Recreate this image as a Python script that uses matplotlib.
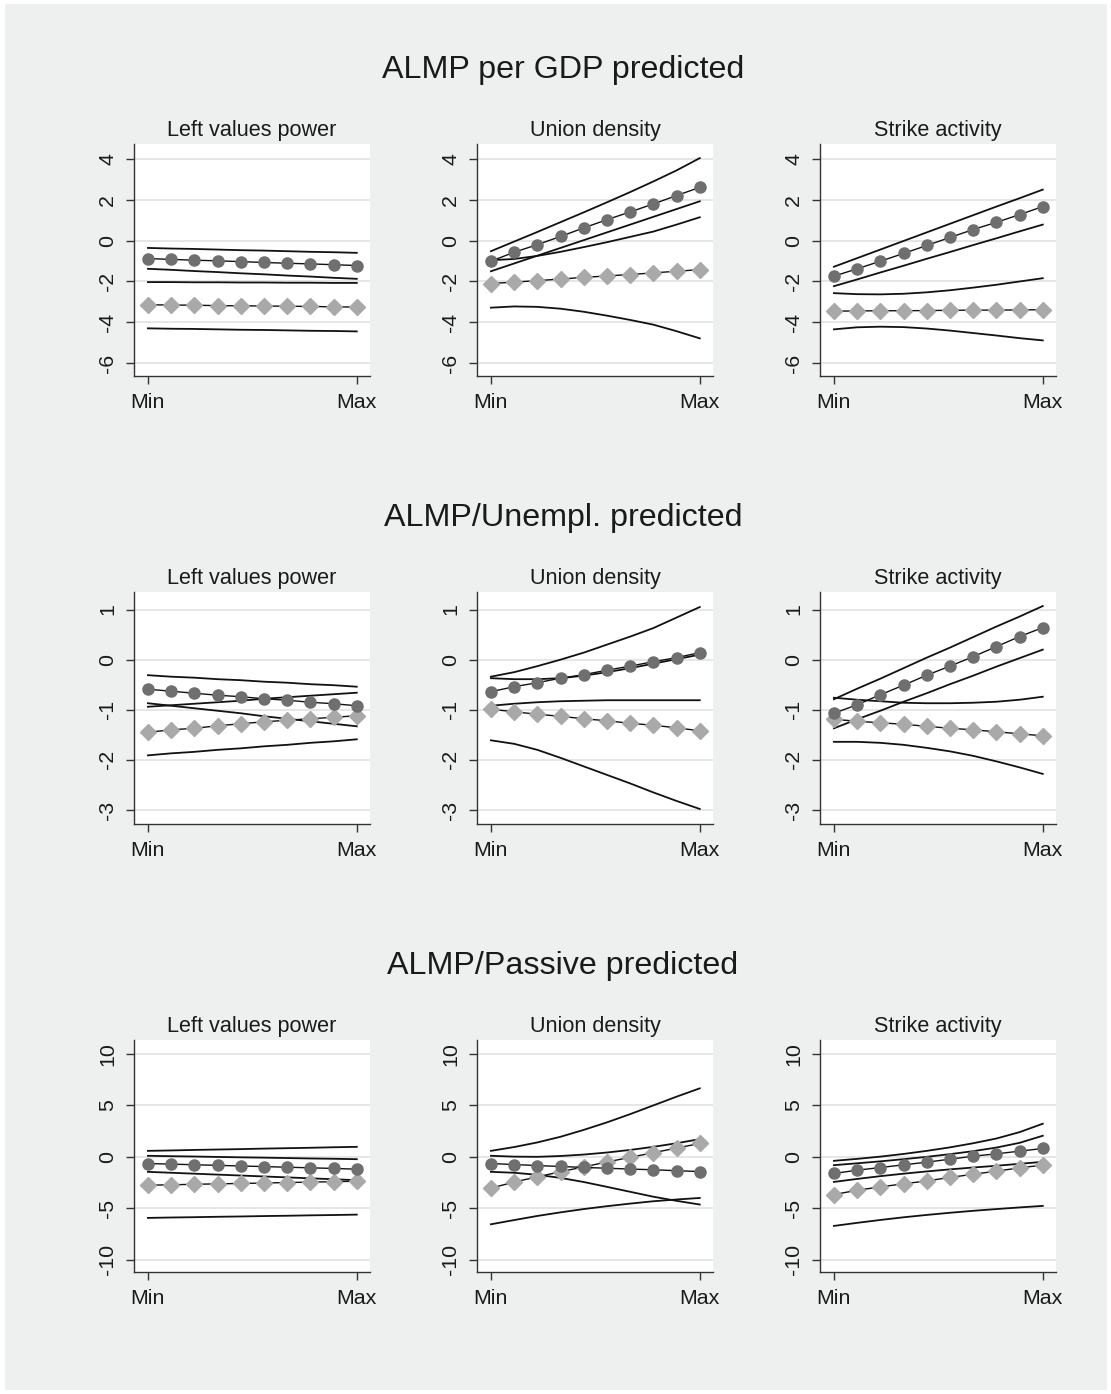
import numpy as np
import matplotlib.pyplot as plt
from matplotlib.patches import Rectangle

plt.rcParams['font.family'] = ['Liberation Sans', 'DejaVu Sans']

# 10 evaluation points between Min and Max of each predictor
x = np.arange(10)

row_titles = ['ALMP per GDP predicted', 'ALMP/Unempl. predicted', 'ALMP/Passive predicted']
col_titles = ['Left values power', 'Union density', 'Strike activity']
row_ylims = [(-6.62, 4.72), (-3.28, 1.35), (-11.2, 11.36)]
row_yticks = [[-6, -4, -2, 0, 2, 4], [-3, -2, -1, 0, 1], [-10, -5, 0, 5, 10]]

# dark circles (series 1), light diamonds (series 2), plus 4 CI lines per panel
# --- row 1: ALMP per GDP
r1_circ = [
    [-0.88, -0.92, -0.96, -0.99, -1.03, -1.07, -1.11, -1.14, -1.18, -1.22],
    [-1.01, -0.57, -0.20, 0.20, 0.62, 1.02, 1.40, 1.79, 2.20, 2.60],
    [-1.74, -1.38, -1.01, -0.63, -0.24, 0.15, 0.54, 0.89, 1.27, 1.66],
]
r1_diam = [
    [-3.14, -3.15, -3.16, -3.18, -3.19, -3.20, -3.21, -3.22, -3.24, -3.25],
    [-2.10, -2.03, -1.96, -1.88, -1.80, -1.73, -1.66, -1.58, -1.50, -1.42],
    [-3.45, -3.44, -3.43, -3.43, -3.42, -3.41, -3.40, -3.40, -3.39, -3.38],
]
r1_ci = [
    [
        [-0.36, -0.39, -0.41, -0.44, -0.47, -0.49, -0.52, -0.55, -0.57, -0.60],
        [-1.38, -1.43, -1.49, -1.54, -1.60, -1.65, -1.71, -1.76, -1.82, -1.87],
        [-2.03, -2.03, -2.04, -2.04, -2.05, -2.05, -2.06, -2.06, -2.07, -2.07],
        [-4.29, -4.31, -4.32, -4.34, -4.36, -4.37, -4.39, -4.41, -4.42, -4.44],
    ],
    [
        [-0.52, -0.05, 0.42, 0.90, 1.38, 1.87, 2.37, 2.89, 3.43, 4.03],
        [-1.50, -1.12, -0.74, -0.36, 0.02, 0.40, 0.78, 1.16, 1.54, 1.92],
        [-0.96, -0.90, -0.75, -0.55, -0.32, -0.08, 0.18, 0.44, 0.78, 1.14],
        [-3.28, -3.22, -3.24, -3.33, -3.48, -3.67, -3.88, -4.11, -4.43, -4.78],
    ],
    [
        [-1.28, -0.86, -0.44, -0.02, 0.40, 0.82, 1.24, 1.66, 2.07, 2.49],
        [-2.23, -1.90, -1.56, -1.23, -0.89, -0.56, -0.22, 0.11, 0.45, 0.78],
        [-2.57, -2.62, -2.63, -2.60, -2.53, -2.43, -2.30, -2.16, -2.00, -1.84],
        [-4.34, -4.24, -4.21, -4.23, -4.30, -4.40, -4.52, -4.64, -4.77, -4.88],
    ],
]
# --- row 2: ALMP / unemployment
r2_circ = [
    [-0.59, -0.63, -0.67, -0.71, -0.74, -0.78, -0.81, -0.85, -0.88, -0.92],
    [-0.64, -0.54, -0.46, -0.37, -0.30, -0.21, -0.13, -0.04, 0.04, 0.14],
    [-1.07, -0.90, -0.70, -0.51, -0.31, -0.13, 0.06, 0.26, 0.46, 0.64],
]
r2_diam = [
    [-1.45, -1.40, -1.37, -1.32, -1.28, -1.24, -1.21, -1.18, -1.15, -1.12],
    [-0.99, -1.04, -1.09, -1.13, -1.18, -1.22, -1.27, -1.31, -1.36, -1.42],
    [-1.19, -1.23, -1.26, -1.29, -1.33, -1.37, -1.40, -1.44, -1.48, -1.52],
]
r2_ci = [
    [
        [-0.31, -0.34, -0.36, -0.39, -0.41, -0.44, -0.46, -0.49, -0.51, -0.54],
        [-0.87, -0.92, -0.97, -1.02, -1.07, -1.13, -1.18, -1.23, -1.28, -1.33],
        [-0.94, -0.91, -0.88, -0.85, -0.82, -0.78, -0.75, -0.72, -0.69, -0.66],
        [-1.91, -1.87, -1.84, -1.80, -1.77, -1.73, -1.70, -1.66, -1.63, -1.59],
    ],
    [
        [-0.34, -0.25, -0.13, 0.00, 0.14, 0.30, 0.46, 0.63, 0.84, 1.05],
        [-0.37, -0.39, -0.39, -0.37, -0.32, -0.25, -0.17, -0.08, 0.01, 0.10],
        [-0.92, -0.88, -0.85, -0.83, -0.82, -0.81, -0.81, -0.81, -0.81, -0.81],
        [-1.61, -1.68, -1.80, -1.96, -2.13, -2.30, -2.47, -2.65, -2.82, -2.98],
    ],
    [
        [-0.79, -0.58, -0.38, -0.17, 0.04, 0.24, 0.45, 0.66, 0.86, 1.07],
        [-1.37, -1.19, -1.02, -0.84, -0.67, -0.49, -0.32, -0.14, 0.03, 0.20],
        [-0.76, -0.80, -0.83, -0.86, -0.87, -0.87, -0.86, -0.84, -0.80, -0.74],
        [-1.64, -1.64, -1.66, -1.70, -1.76, -1.83, -1.92, -2.03, -2.15, -2.28],
    ],
]
# --- row 3: ALMP / passive
r3_circ = [
    [-0.65, -0.71, -0.77, -0.83, -0.89, -0.95, -1.01, -1.07, -1.13, -1.20],
    [-0.65, -0.75, -0.85, -0.94, -1.03, -1.11, -1.19, -1.26, -1.35, -1.43],
    [-1.62, -1.30, -1.04, -0.78, -0.52, -0.23, 0.06, 0.29, 0.55, 0.81],
]
r3_diam = [
    [-2.76, -2.72, -2.67, -2.63, -2.59, -2.55, -2.50, -2.46, -2.42, -2.37],
    [-3.05, -2.45, -1.95, -1.45, -0.98, -0.50, -0.05, 0.40, 0.85, 1.30],
    [-3.67, -3.25, -2.92, -2.63, -2.34, -2.01, -1.69, -1.40, -1.07, -0.81],
]
r3_ci = [
    [
        [0.58, 0.62, 0.67, 0.71, 0.75, 0.80, 0.84, 0.88, 0.93, 0.97],
        [0.10, 0.06, 0.03, -0.01, -0.05, -0.08, -0.12, -0.16, -0.19, -0.23],
        [-1.46, -1.55, -1.64, -1.73, -1.82, -1.91, -2.00, -2.09, -2.18, -2.27],
        [-5.94, -5.90, -5.87, -5.83, -5.80, -5.76, -5.73, -5.69, -5.66, -5.62],
    ],
    [
        [0.58, 0.95, 1.40, 1.95, 2.62, 3.35, 4.15, 5.00, 5.85, 6.66],
        [0.10, 0.02, 0.00, 0.08, 0.22, 0.42, 0.67, 0.97, 1.32, 1.72],
        [-1.46, -1.55, -1.75, -2.05, -2.45, -2.92, -3.40, -3.88, -4.28, -4.64],
        [-6.56, -6.15, -5.75, -5.40, -5.08, -4.80, -4.55, -4.32, -4.15, -4.00],
    ],
    [
        [-0.39, -0.20, 0.02, 0.28, 0.58, 0.92, 1.32, 1.78, 2.40, 3.22],
        [-0.81, -0.63, -0.44, -0.23, 0.00, 0.26, 0.55, 0.90, 1.36, 2.05],
        [-2.44, -2.15, -1.88, -1.64, -1.42, -1.22, -1.04, -0.87, -0.68, -0.49],
        [-6.72, -6.42, -6.14, -5.88, -5.65, -5.44, -5.25, -5.08, -4.92, -4.77],
    ],
]

circ_rows = [r1_circ, r2_circ, r3_circ]
diam_rows = [r1_diam, r2_diam, r3_diam]
ci_rows = [r1_ci, r2_ci, r3_ci]

W, H = 1111, 1394
bg = '#eef0f0'
fig = plt.figure(figsize=(W / 100, H / 100), dpi=100, facecolor='white')
fig.patches.append(Rectangle((5 / W, 4 / H), (W - 9) / W, (H - 8) / H,
                             transform=fig.transFigure, facecolor=bg,
                             edgecolor='none', zorder=-10))

col_left = [134, 477, 820]
col_width = 236
row_top = [144, 592, 1040]
row_height = 232
title_y = [70, 518, 966]

for r in range(3):
    fig.text(563 / W, 1 - title_y[r] / H, row_titles[r],
             ha='center', va='center', fontsize=23.2, color='#1a1a1a')
    for c in range(3):
        ax = fig.add_axes([col_left[c] / W, 1 - (row_top[r] + row_height) / H,
                           col_width / W, row_height / H])
        ax.set_facecolor('white')
        for y in ci_rows[r][c]:
            ax.plot(x, y, color='#111111', lw=1.3, zorder=2)
        ax.plot(x, diam_rows[r][c], color='#111111', lw=1.0, zorder=3)
        ax.plot(x, diam_rows[r][c], ls='none', marker='D', ms=8.5,
                color='#a9a9a9', mec='#a9a9a9', zorder=4)
        ax.plot(x, circ_rows[r][c], color='#111111', lw=1.0, zorder=5)
        ax.plot(x, circ_rows[r][c], ls='none', marker='o', ms=8,
                color='#6f6f6f', mec='#6f6f6f', zorder=6)

        ax.set_xlim(-0.6, 9.57)
        ax.set_ylim(*row_ylims[r])
        ax.set_xticks([0, 9])
        ax.set_xticklabels(['Min', 'Max'])
        ax.set_yticks(row_yticks[r])
        ax.set_yticklabels([str(t) for t in row_yticks[r]], rotation=90, va='center')
        ax.yaxis.grid(True, color='#e4e4e4', lw=1.3)
        ax.set_axisbelow(True)
        for s in ['top', 'right']:
            ax.spines[s].set_visible(False)
        for s in ['left', 'bottom']:
            ax.spines[s].set_color('#333333')
            ax.spines[s].set_linewidth(1.0)
        ax.tick_params(axis='both', direction='out', length=6, width=1.0,
                       color='#333333', labelsize=15.4, labelcolor='#1a1a1a', pad=6)
        ax.set_title(col_titles[c], fontsize=15.6, color='#1a1a1a', pad=6)

fig.savefig('out.png', dpi=100, facecolor=fig.get_facecolor())
